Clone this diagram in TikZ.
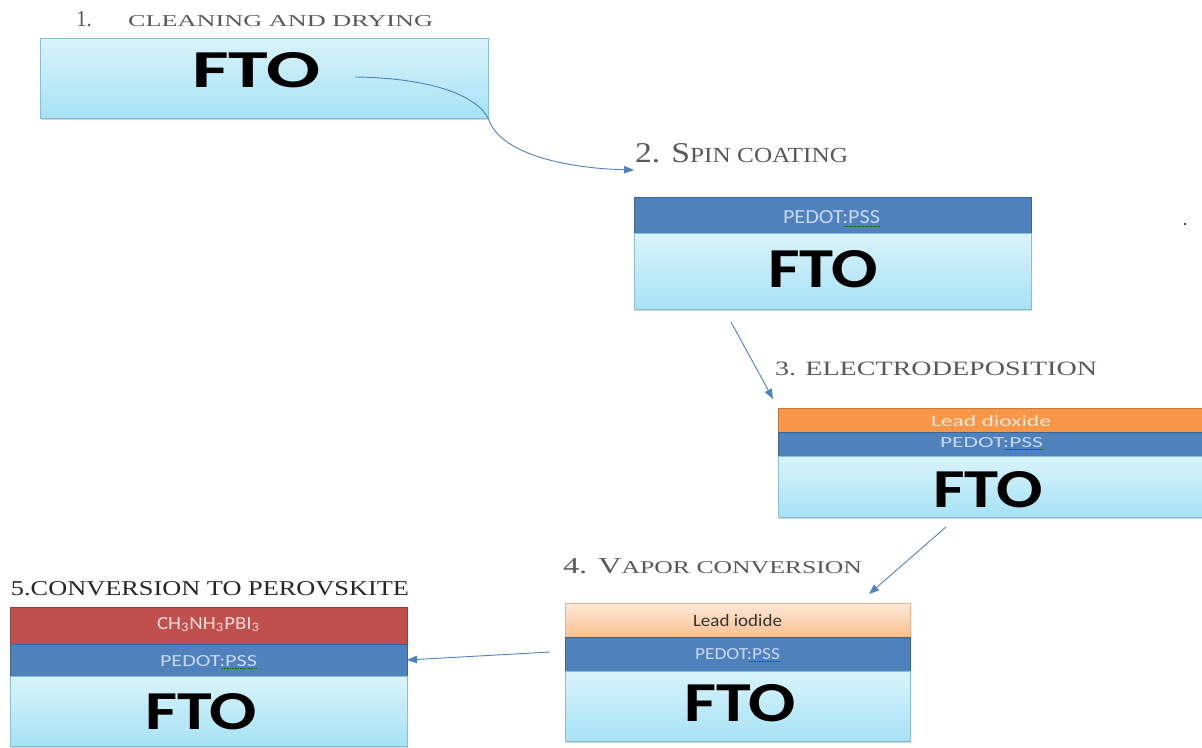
\documentclass[tikz,border=0pt]{standalone}
\usepackage{graphicx}
\usepackage{fontspec}
\setmainfont{Liberation Serif}
\newfontfamily\calfont{Carlito}
\usetikzlibrary{arrows.meta,shadows,calc}
\definecolor{ftotop}{HTML}{DAF3FB}
\definecolor{ftobot}{HTML}{A6E2F5}
\definecolor{ftoedge}{HTML}{86C0D2}
\definecolor{pedot}{HTML}{4F81BD}
\definecolor{pedotedge}{HTML}{3A6494}
\definecolor{pedottxt}{HTML}{C6D9F1}
\definecolor{orangefill}{HTML}{F79646}
\definecolor{orangeedge}{HTML}{C97A3A}
\definecolor{orangetxt}{HTML}{FDE9D9}
\definecolor{pbitop}{HTML}{FDE9D9}
\definecolor{pbibot}{HTML}{FAC08F}
\definecolor{pbiedge}{HTML}{E3B48B}
\definecolor{perov}{HTML}{C0504D}
\definecolor{perovedge}{HTML}{9B3D3B}
\definecolor{perovtxt}{HTML}{F2DCDB}
\definecolor{labelgray}{HTML}{595959}
\definecolor{labeldark}{HTML}{262626}
\definecolor{arrowc}{HTML}{4F81BD}
\newcommand\fitbox[3]{\resizebox{#1pt}{#2pt}{#3}}
\begin{document}
\begin{tikzpicture}[x=1pt,y=-1pt,
  lay/.style={anchor=north west, inner sep=0pt, outer sep=0pt, line width=0.7pt},
  shadowbox/.style={lay, draw=none, drop shadow={opacity=0.35, shadow xshift=1.2pt, shadow yshift=-2pt}},
  fto/.style={lay, draw=ftoedge, top color=ftotop, bottom color=ftobot},
  pedotl/.style={lay, draw=pedotedge, fill=pedot},
  pbo/.style={lay, draw=orangeedge, fill=orangefill},
  pbi/.style={lay, draw=pbiedge, top color=pbitop, bottom color=pbibot},
  perovl/.style={lay, draw=perovedge, fill=perov},
  txt/.style={anchor=base west, inner sep=0pt, outer sep=0pt},
  ftotext/.style={txt, text=black, font=\calfont\bfseries},
  small/.style={txt, font=\calfont},
  lbl/.style={txt, text=labelgray},
  conn/.style={draw=arrowc, line width=0.9pt, -{Triangle[length=10pt,width=7.5pt]}},
  squig/.style={draw=green!45!black, line width=0.6pt, dash pattern=on 0.8pt off 0.8pt}
]
\useasboundingbox (0,0) rectangle (1202,747);

% ---------- stack 1
\node[shadowbox, minimum width=448pt, minimum height=80pt] (s1) at (40,38) {};
\node[fto, minimum width=448pt, minimum height=80pt] (f1) at (40,38) {};
\node[ftotext] (t1) at (192,87) {\fitbox{128}{35}{FTO}};
\node[lbl] (l1n) at (76,26) {\fitbox{16}{15}{1.}};
\node[lbl] (l1) at (128,26) {\fitbox{305}{11}{CLEANING AND DRYING}};

% ---------- stack 2
\node[shadowbox, minimum width=397pt, minimum height=112pt] (s2) at (634,197) {};
\node[pedotl, minimum width=397pt, minimum height=36pt] (p2) at (634,197) {};
\node[fto, minimum width=397pt, minimum height=76pt] (f2) at (634,233) {};
\node[ftotext] (t2) at (768,287) {\fitbox{110}{37}{FTO}};
\node[small, text=pedottxt] (tp2) at (783,223) {\fitbox{97}{13}{PEDOT:PSS}};
\draw[squig] ($(tp2.base east)+(-36,3)$) -- ($(tp2.base east)+(0,3)$);
\node[lbl] (l2) at (635,162) {\fitbox{213}{19}{{\fontsize{24}{28}\selectfont 2. S}{\fontsize{18}{20}\selectfont PIN COATING}}};

% ---------- stack 3
\node[shadowbox, minimum width=430pt, minimum height=109pt] (s3) at (778,408) {};
\node[pbo, minimum width=430pt, minimum height=24pt] (o3) at (778,408) {};
\node[pedotl, minimum width=430pt, minimum height=24pt] (p3) at (778,432) {};
\node[fto, minimum width=430pt, minimum height=61pt] (f3) at (778,456) {};
\node[ftotext] (t3) at (933,507) {\fitbox{110}{36}{FTO}};
\node[small, text=orangetxt] (to3) at (931,426) {\fitbox{120}{11}{Lead dioxide}};
\node[small, text=pedottxt] (tp3) at (940,447) {\fitbox{103}{10}{PEDOT:PSS}};
\draw[squig] ($(tp3.base east)+(-38,2.5)$) -- ($(tp3.base east)+(0,2.5)$);
\node[lbl] (l3) at (775,375) {\fitbox{322}{13.5}{3. ELECTRODEPOSITION}};

% ---------- stack 4
\node[shadowbox, minimum width=345pt, minimum height=138pt] (s4) at (565,603) {};
\node[pbi, minimum width=345pt, minimum height=34pt] (i4) at (565,603) {};
\node[pedotl, minimum width=345pt, minimum height=34pt] (p4) at (565,637) {};
\node[fto, minimum width=345pt, minimum height=70pt] (f4) at (565,671) {};
\node[ftotext] (t4) at (684,721) {\fitbox{112}{37}{FTO}};
\node[small, text=black!80] (ti4) at (693,626) {\fitbox{89}{12}{Lead iodide}};
\node[small, text=pedottxt] (tp4) at (695,659) {\fitbox{85}{11}{PEDOT:PSS}};
\draw[squig] ($(tp4.base east)+(-31,2.5)$) -- ($(tp4.base east)+(0,2.5)$);
\node[lbl] (l4) at (563,573) {\fitbox{299}{15}{{\fontsize{24}{28}\selectfont 4. V}{\fontsize{19}{22}\selectfont APOR CONVERSION}}};

% ---------- stack 5
\node[shadowbox, minimum width=397pt, minimum height=139pt] (s5) at (10,607) {};
\node[perovl, minimum width=397pt, minimum height=37pt] (r5) at (10,607) {};
\node[pedotl, minimum width=397pt, minimum height=32pt] (p5) at (10,644) {};
\node[fto, minimum width=397pt, minimum height=70pt] (f5) at (10,676) {};
\node[ftotext] (t5) at (145,729) {\fitbox{112}{36}{FTO}};
\node[small, text=perovtxt] (tr5) at (157,629) {\fitbox{103}{12}{CH\textsubscript{3}NH\textsubscript{3}PBI\textsubscript{3}}};
\node[small, text=pedottxt] (tp5) at (160,666) {\fitbox{97}{11}{PEDOT:PSS}};
\draw[squig] ($(tp5.base east)+(-35,2.5)$) -- ($(tp5.base east)+(0,2.5)$);
\node[lbl, text=labeldark] (l5) at (11,595) {\fitbox{398}{14}{5.CONVERSION TO PEROVSKITE}};

% ---------- connectors
\coordinate (c1) at (355,77);
\coordinate (c2) at (634,170);
\coordinate (c3) at (731,322);
\coordinate (c4) at (773,399);
\coordinate (c5) at (946,527);
\coordinate (c6) at (869,594);
\coordinate (c7) at (550,652);
\draw[conn] (c1) .. controls (430,78) and (478,95) .. (489,120)
               .. controls (500,152) and (560,168) .. (c2);
\draw[conn] (c3) -- (c4);
\draw[conn] (c5) -- (c6);
\draw[conn] (c7) -- (p5.east);

% stray dot
\fill[black!70!blue] (1185,224) circle (1.1pt);
\end{tikzpicture}
\end{document}
